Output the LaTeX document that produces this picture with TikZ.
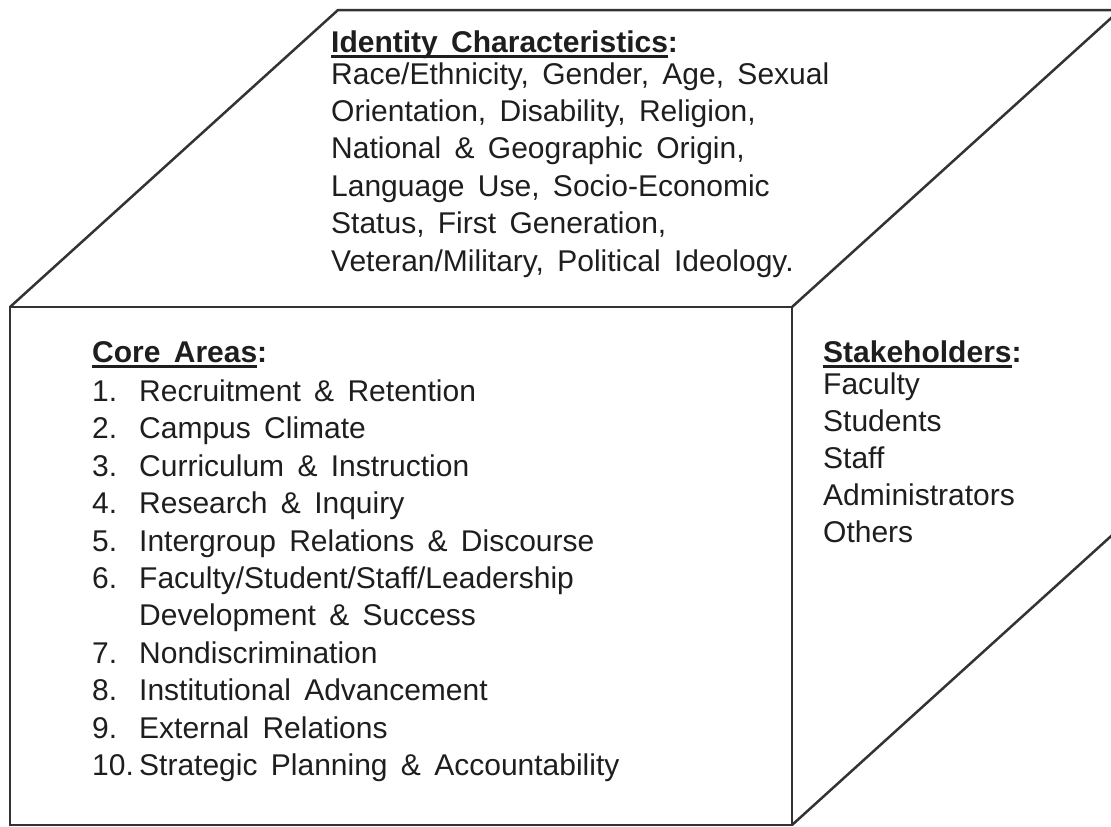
\documentclass[tikz,border=0pt]{standalone}
\usepackage{fontspec}
\setmainfont[WordSpace=1.6]{Liberation Sans}
\definecolor{ink}{HTML}{1E1E1E}
\definecolor{edge}{HTML}{333333}
\newcommand\ulbox[1]{\leavevmode\setbox0\hbox{#1}\rlap{\rule[-5.5pt]{\wd0}{2.4pt}}\box0}
\begin{document}
\begin{tikzpicture}[x=1pt,y=-1pt,
  lbl/.style={anchor=base west, inner sep=0pt, text=ink,
    font=\fontsize{30}{36}\selectfont},
  face/.style={draw=edge, line width=2.5pt, line join=miter}]
\useasboundingbox (0,0) rectangle (1111,827);
\clip (0,0) rectangle (1111,827);
\coordinate (A) at (10,307);
\coordinate (B) at (792,307);
\coordinate (C) at (792,825);
\coordinate (D) at (10,825);
\coordinate (E) at (338,10);
\coordinate (F) at (1120,10);
\coordinate (G) at (1120,528);
\draw[face] (A) -- (B) -- (C) -- (D) -- cycle;
\draw[face] (A) -- (E) -- (F);
\draw[face] (B) -- (F);
\draw[face] (C) -- (G);
% identity characteristics
\node[lbl] (idt) at (331,52) {\bfseries\ulbox{Identity Characteristics}:};
\foreach \t [count=\i] in {{Race/Ethnicity, Gender, Age, Sexual}, {Orientation, Disability, Religion,}, {National \& Geographic Origin,}, {Language Use, Socio-Economic}, {Status, First Generation,}, {Veteran/Military, Political Ideology.}}{
  \node[lbl] (id\i) at (331,46.6+37.4*\i) {\t};
}
% core areas
\node[lbl] (cat) at (92,362) {\bfseries\ulbox{Core Areas}:};
\foreach \n/\t [count=\i] in {{1.}/{Recruitment \& Retention}, {2.}/{Campus Climate}, {3.}/{Curriculum \& Instruction}, {4.}/{Research \& Inquiry}, {5.}/{Intergroup Relations \& Discourse}, {6.}/{Faculty/Student/Staff/Leadership}, {}/{Development \& Success}, {7.}/{Nondiscrimination}, {8.}/{Institutional Advancement}, {9.}/{External Relations}, {10.}/{Strategic Planning \& Accountability}}{
  \node[lbl] (cn\i) at (92,364+37.4*\i) {\n};
  \node[lbl] (ct\i) at (139,364+37.4*\i) {\t};
}
% stakeholders
\node[lbl] (skt) at (823,362) {\bfseries\ulbox{Stakeholders}:};
\foreach \t [count=\i] in {Faculty, Students, Staff, Administrators, Others}{
  \node[lbl] (sk\i) at (823,358+36.8*\i) {\t};
}
\end{tikzpicture}
\end{document}
